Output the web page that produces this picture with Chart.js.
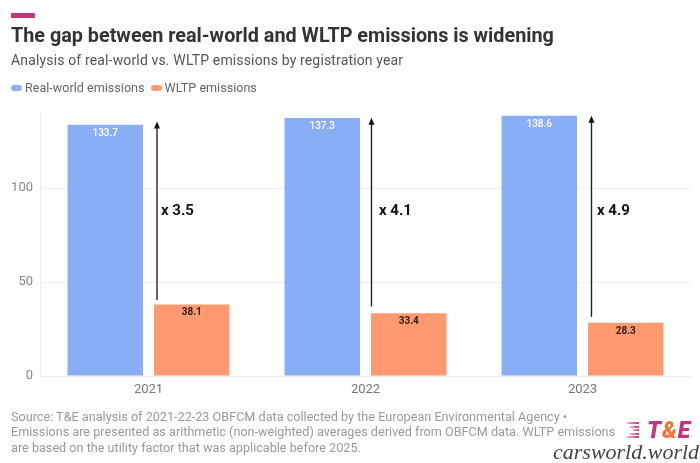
<!DOCTYPE html>
<html>
<head>
<meta charset="utf-8">
<script src="https://cdn.jsdelivr.net/npm/chart.js@4"></script>
<style>
  html, body { margin: 0; padding: 0; background: #fff; }
  body { width: 700px; height: 463px; position: relative; overflow: hidden; font-family: Roboto, sans-serif; }
  #chart { position: absolute; left: 0; top: 0; }
  .abs { position: absolute; white-space: nowrap; }
  .soft { filter: blur(0.4px); }
  #accent { left: 11px; top: 13px; width: 24px; height: 5px; background: #c4367c; }
  #title { left: 11px; top: 24px; font-size: 19.8px; line-height: 24px; font-weight: 700; color: #333; }
  #subtitle { left: 11px; top: 51px; font-size: 14px; line-height: 18px; color: #555; letter-spacing: 0.15px; }
  #legend { left: 11px; top: 79px; font-size: 12.6px; line-height: 17px; color: #666; display: flex; }
  #legend span.item { display: flex; align-items: center; margin-right: 6px; }
  #legend i { width: 11px; height: 6px; border-radius: 3px; margin-right: 3px; display: block; }
  #source { left: 11px; top: 409px; font-size: 12.65px; line-height: 15.3px; color: #999; }
  #logo { left: 647px; top: 418px; font-size: 23px; line-height: 26px; font-weight: 900; font-style: italic; color: #c4367c; letter-spacing: 0.8px; }
  #logo b { color: #f2763c; font-weight: 900; }
  #stripes { left: 627px; top: 422px; width: 12px; }
  #stripes div { height: 2px; background: linear-gradient(to right, #f0b4d0, #c4367c); margin-bottom: 1.5px; margin-left: auto; }
  #mark { left: 553px; top: 440px; font-family: "Liberation Serif", serif; font-style: italic; font-size: 22px; line-height: 24px; color: #444; }
</style>
</head>
<body>
<canvas id="chart" class="soft" width="700" height="463"></canvas>
<div class="abs soft" id="accent"></div>
<div class="abs soft" id="title">The gap between real-world and WLTP emissions is widening</div>
<div class="abs soft" id="subtitle">Analysis of real-world vs. WLTP emissions by registration year</div>
<div class="abs soft" id="legend"></div>
<div class="abs soft" id="source">Source: T&amp;E analysis of 2021-22-23 OBFCM data collected by the European Environmental Agency •<br>Emissions are presented as arithmetic (non-weighted) averages derived from OBFCM data. WLTP emissions<br>are based on the utility factor that was applicable before 2025.</div>
<div class="abs soft" id="stripes"><div style="width:12px"></div><div style="width:9px"></div><div style="width:6px"></div><div style="width:9px"></div><div style="width:12px"></div></div>
<div class="abs soft" id="logo">T<b>&amp;</b>E</div>
<div class="abs" id="mark">carsworld.world</div>
<script>
var years = ['2021', '2022', '2023'];
var realWorld = [133.7, 137.3, 138.6];
var wltp = [38.1, 33.4, 28.3];
var arrowTop = [135, 137, 138];
var arrowBottom = [40.5, 37, 31.5];
var multipliers = ['x 3.5', 'x 4.1', 'x 4.9'];
var multiplierAt = [87.8, 87.8, 87.8];
var yTicks = [0, 50, 100];

var BLUE = '#8aaef5';
var ORANGE = '#ff9a70';

// the arrows in the source were placed by hand, so they sit a bit differently per group
var ARROW_NUDGE = [3, 0.5, 3.5];
var NOTE_NUDGE = [7, 8, 9];

var legendEl = document.getElementById('legend');
[['Real-world emissions', BLUE], ['WLTP emissions', ORANGE]].forEach(function(s) {
	var item = document.createElement('span');
	item.className = 'item';
	item.innerHTML = '<i style="background:' + s[1] + '"></i>' + s[0];
	legendEl.appendChild(item);
});

// value labels, arrows and the "x n" notes go on top of the bars
var overlay = {
	id: 'overlay',
	afterDatasetsDraw: function(chart) {
		var ctx = chart.ctx;
		var y = chart.scales.y;
		var blueBars = chart.getDatasetMeta(0).data;
		var orangeBars = chart.getDatasetMeta(1).data;
		ctx.save();
		ctx.textAlign = 'center';
		ctx.textBaseline = 'middle';
		blueBars.forEach(function(bar, i) {
			ctx.font = '500 10px Roboto';
			ctx.fillStyle = '#ffffff';
			ctx.fillText(realWorld[i].toFixed(1), bar.x, bar.y + 8.5);
		});
		orangeBars.forEach(function(bar, i) {
			ctx.font = '700 10px Roboto';
			ctx.fillStyle = '#2b1a12';
			ctx.fillText(wltp[i].toFixed(1), bar.x, bar.y + 8.5);

			var left = bar.x - bar.width / 2;
			var ax = left + ARROW_NUDGE[i];
			var top = y.getPixelForValue(arrowTop[i]);
			var bottom = y.getPixelForValue(arrowBottom[i]);
			ctx.strokeStyle = '#222';
			ctx.fillStyle = '#111';
			ctx.lineWidth = 1.4;
			ctx.beginPath();
			ctx.moveTo(ax, bottom);
			ctx.lineTo(ax, top + 3);
			ctx.stroke();
			ctx.beginPath();
			ctx.moveTo(ax, top - 1);
			ctx.lineTo(ax - 3, top + 6);
			ctx.lineTo(ax + 3, top + 6);
			ctx.closePath();
			ctx.fill();

			ctx.font = '700 15px Roboto';
			ctx.textAlign = 'left';
			ctx.fillStyle = '#111';
			ctx.fillText(multipliers[i], left + NOTE_NUDGE[i], y.getPixelForValue(multiplierAt[i]));
			ctx.textAlign = 'center';
		});
		ctx.restore();
	}
};

new Chart(document.getElementById('chart').getContext('2d'), {
	type: 'bar',
	data: {
		labels: years,
		datasets: [
			{ label: 'Real-world emissions', data: realWorld, backgroundColor: BLUE },
			{ label: 'WLTP emissions', data: wltp, backgroundColor: ORANGE }
		]
	},
	options: {
		responsive: false,
		animation: false,
		devicePixelRatio: 1,
		layout: { padding: { top: 113, bottom: 57, right: 9, left: 0 } },
		categoryPercentage: 0.797,
		barPercentage: 0.873,
		plugins: {
			legend: { display: false },
			tooltip: { enabled: false }
		},
		scales: {
			y: {
				min: 0,
				max: 140,
				afterFit: function(axis) { axis.width = 40; },
				afterBuildTicks: function(axis) {
					axis.ticks = yTicks.map(function(v) { return { value: v }; });
				},
				border: { color: '#eeeeee' },
				grid: { color: '#f0f0f0', drawTicks: false },
				ticks: { color: '#888', padding: 7, font: { family: 'Roboto', size: 13 } }
			},
			x: {
				afterFit: function(axis) { axis.height = 30; },
				border: { color: '#eeeeee' },
				grid: { display: false, drawTicks: false },
				ticks: { color: '#777', padding: 6, font: { family: 'Roboto', size: 13 } }
			}
		}
	},
	plugins: [overlay]
});
</script>
</body>
</html>
